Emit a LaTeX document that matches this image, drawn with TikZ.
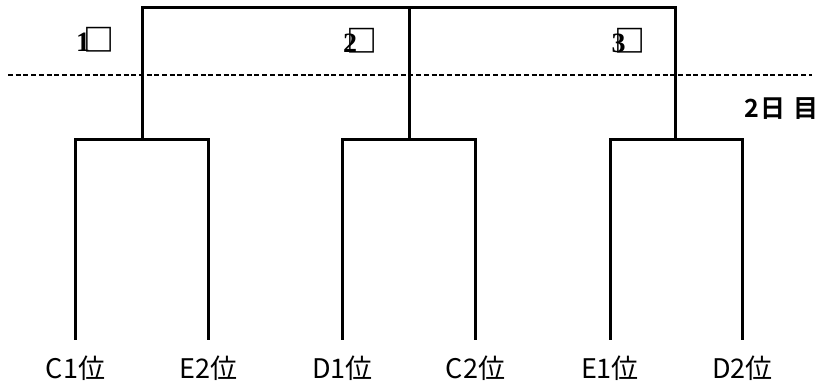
\documentclass[tikz,border=0pt]{standalone}
\usepackage{fontspec}
\setmainfont{Liberation Serif}
\newfontfamily\cjk{Noto Sans CJK JP}
\newfontfamily\cjkb{Noto Sans CJK JP Bold}
\newcommand{\tofu}{{\cjk\fontsize{31}{32}\selectfont □}}
\begin{document}
\begin{tikzpicture}[x=1pt,y=-1pt,
  bracket/.style={line width=3pt,line cap=rect},
  sep/.style={line width=2pt,dash pattern=on 5pt off 2.7pt},
  leaf/.style={anchor=base,inner sep=0pt,font=\cjk\fontsize{27}{30}\selectfont},
  round/.style={inner sep=0pt,font=\bfseries\fontsize{28}{30}\selectfont},
  day/.style={anchor=base,inner sep=0pt,font=\cjkb\fontsize{25}{28}\selectfont}]
\useasboundingbox (0,0) rectangle (819,388);
% coordinates
\coordinate (top) at (409,7.5);
\coordinate (j1) at (142.5,139.5);
\coordinate (j2) at (409,139.5);
\coordinate (j3) at (675.5,139.5);
\coordinate (l1) at (75.5,338);
\coordinate (l2) at (208.5,338);
\coordinate (l3) at (342.5,338);
\coordinate (l4) at (475.5,338);
\coordinate (l5) at (610,338);
\coordinate (l6) at (742.5,338);
\coordinate (ds) at (8,75);
\coordinate (de) at (812,75);
% leaf labels
\node[leaf] (c1) at (75.5,378) {C1位};
\node[leaf] (e2) at (208.5,378) {E2位};
\node[leaf] (d1) at (342.5,378) {D1位};
\node[leaf] (c2) at (475.5,378) {C2位};
\node[leaf] (e1) at (610,378) {E1位};
\node[leaf] (d2) at (742.5,378) {D2位};
% round labels
\node[round,anchor=base] (r1) at (95.5,51) {1\kern-0.22em\tofu};
\node[round,anchor=base] (r2) at (360.5,52) {2\kern-0.36em\tofu};
\node[round,anchor=base] (r3) at (628.5,52) {3\kern-0.4em\tofu};
\node[day] (day) at (781.5,117) {2\kern0.05em 日\kern0.3em 目};
% dashed separator
\draw[sep] (ds) -- (de);
% brackets
\draw[bracket] (j1) |- (top) -| (j3);
\draw[bracket] (top) -- (j2);
\draw[bracket] (l1) |- (j1) -| (l2);
\draw[bracket] (l3) |- (j2) -| (l4);
\draw[bracket] (l5) |- (j3) -| (l6);
\end{tikzpicture}
\end{document}
